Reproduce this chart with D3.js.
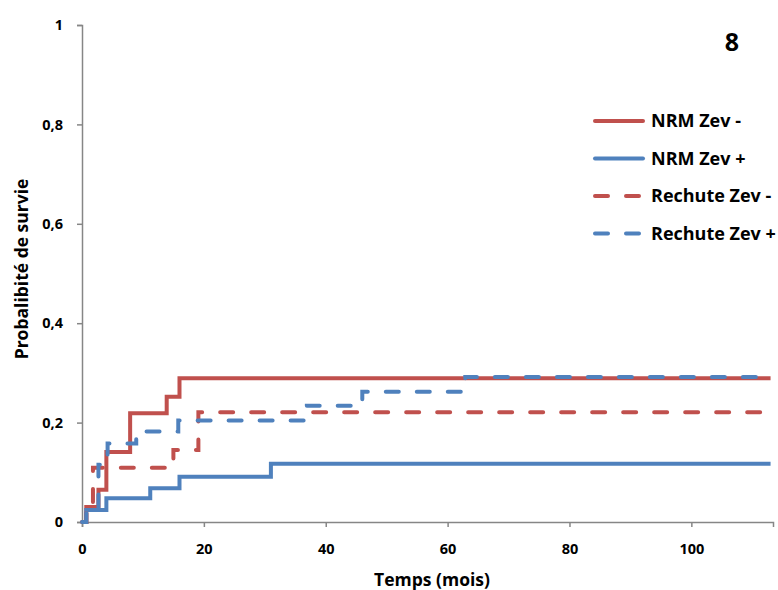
<!DOCTYPE html>
<html><head><meta charset="utf-8">
<script src="https://cdn.jsdelivr.net/npm/d3@7"></script>
<style>body{margin:0;background:#fff}svg{display:block}text{font-family:"Open Sans",Lato,sans-serif;font-weight:bold;fill:#000}</style>
</head><body><svg id="c" width="778" height="590"></svg>
<script>
// Data
const seriesNames = ["NRM Zev -", "NRM Zev +", "Rechute Zev -", "Rechute Zev +"];
const seriesColors = ["#C0504D", "#4F81BD", "#C0504D", "#4F81BD"];
const seriesDashed = [false, false, true, true];
const nrmMinusT = [0, 0.7, 2.7, 4, 7.9, 13.9, 16, 113];
const nrmMinusV = [0, 0.030, 0.065, 0.141, 0.219, 0.252, 0.289, 0.289];
const nrmPlusT = [0, 0.7, 4, 11.2, 16, 31, 113];
const nrmPlusV = [0, 0.024, 0.048, 0.068, 0.091, 0.117, 0.117];
const rechMinusT = [0, 0.7, 1.8, 15, 19.1, 113];
const rechMinusV = [0, 0.030, 0.109, 0.145, 0.221, 0.221];
const rechPlusT = [0, 0.7, 2.7, 4.2, 8.9, 15.8, 36.9, 46, 62.9, 113];
const rechPlusV = [0, 0.024, 0.115, 0.158, 0.182, 0.204, 0.234, 0.262, 0.292, 0.292];
const xTicks = [0, 20, 40, 60, 80, 100];
const yTicks = [0, 0.2, 0.4, 0.6, 0.8, 1];
const xTitle = "Temps (mois)";
const yTitle = "Probalibité de survie";
const panelLabel = "8";

const allT = [nrmMinusT, nrmPlusT, rechMinusT, rechPlusT];
const allV = [nrmMinusV, nrmPlusV, rechMinusV, rechPlusV];

const svg = d3.select("#c");
const L = 82, R = 773, T = 25, B = 522;
const x = d3.scaleLinear().domain([0, 113.4]).range([L, R]);
const y = d3.scaleLinear().domain([0, 1]).range([B, T]);
const axisColor = "#868686";

// axes
const gx = svg.append("g").attr("transform", `translate(0,${B})`)
  .call(d3.axisBottom(x).tickValues(xTicks).tickSize(5).tickPadding(17).tickFormat(d3.format("d")));
const gy = svg.append("g").attr("transform", `translate(${L},0)`)
  .call(d3.axisLeft(y).tickValues(yTicks).tickSize(5).tickPadding(14)
    .tickFormat(d => d === 0 || d === 1 ? String(d) : String(d).replace(".", ",")));
[gx, gy].forEach(g => {
  g.select(".domain").attr("stroke", axisColor).attr("stroke-width", 1.5);
  g.selectAll(".tick line").attr("stroke", axisColor).attr("stroke-width", 1.5);
  g.selectAll(".tick text").attr("font-size", 14.5).attr("font-family", "Open Sans").attr("font-weight", "bold").attr("fill", "#000");
});

// curves
const line = d3.line().x(d => x(d[0])).y(d => y(d[1])).curve(d3.curveStepAfter);
[0, 1, 2, 3].forEach(i => {
  const pts = allT[i].map((t, k) => [t, allV[i][k]]);
  svg.append("path").attr("d", line(pts)).attr("fill", "none")
    .attr("stroke", seriesColors[i]).attr("stroke-width", 4)
    .attr("stroke-linecap", seriesDashed[i] ? "round" : "butt")
    .attr("stroke-dasharray", seriesDashed[i] ? "13 18" : null);
});

// titles
svg.append("text").attr("x", 432).attr("y", 586).attr("text-anchor", "middle")
  .attr("font-size", 17.5).text(xTitle);
svg.append("text").attr("transform", "translate(28,269) rotate(-90)").attr("text-anchor", "middle")
  .attr("font-size", 17.5).text(yTitle);
svg.append("text").attr("x", 732).attr("y", 51).attr("text-anchor", "middle")
  .attr("font-size", 25).text(panelLabel);

// legend
const legY = [121, 158.5, 196, 233.5];
seriesNames.forEach((n, i) => {
  svg.append("line").attr("x1", 595).attr("x2", 643).attr("y1", legY[i]).attr("y2", legY[i])
    .attr("stroke", seriesColors[i]).attr("stroke-width", 4)
    .attr("stroke-linecap", "round")
    .attr("stroke-dasharray", seriesDashed[i] ? "13 18" : null);
  svg.append("text").attr("x", 651).attr("y", legY[i]).attr("dy", "0.36em")
    .attr("font-size", 18).text(n);
});
</script></body></html>
